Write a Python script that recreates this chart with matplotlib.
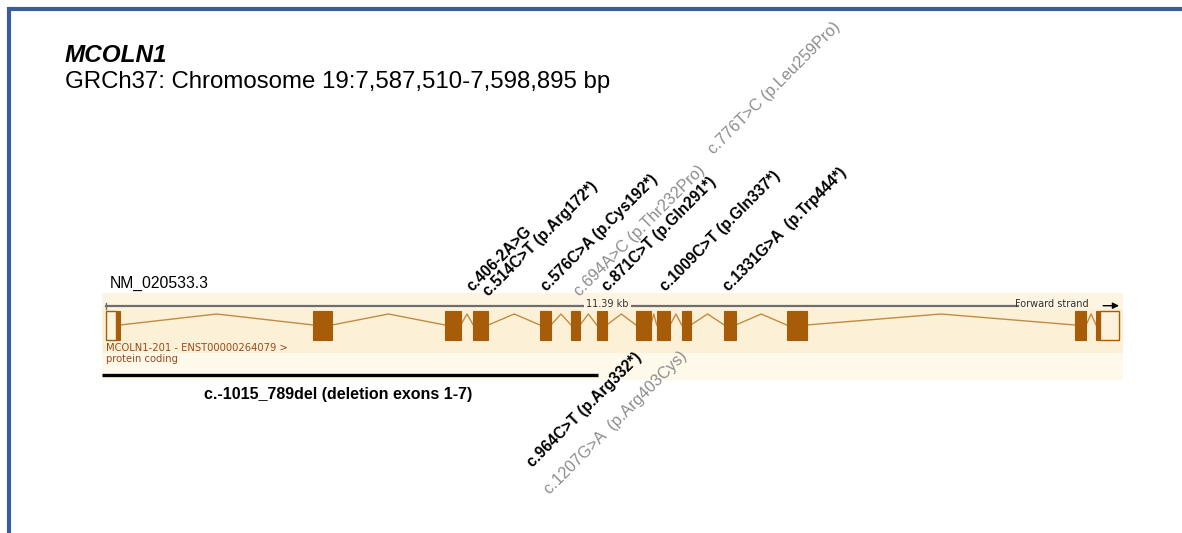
import matplotlib.pyplot as plt
from matplotlib.patches import Rectangle

# exon coordinates, bp from transcript start (gene span 11.39 kb)
exon_start = [0, 2333, 3812, 4130, 4880, 5228, 5517, 5958, 6191, 6472, 6951, 7652, 10891, 11127]
exon_end = [161, 2543, 3989, 4299, 5003, 5329, 5629, 6124, 6341, 6573, 7079, 7876, 11015, 11385]
cds_start = 116      # first exon coding part begins here
cds_end = 11172      # last exon coding part ends here
gene_len = 11385

# variants above the track
top_labels = ["c.406-2A>G", "c.514C>T (p.Arg172*)", "c.576C>A (p.Cys192*)",
              "c.694A>C (p.Thr232Pro)", "c.871C>T (p.Gln291*)", "c.776T>C (p.Leu259Pro)",
              "c.1009C>T (p.Gln337*)", "c.1331G>A  (p.Trp444*)"]
top_pos = [4120, 4310, 4960, 5330, 5640, 6830, 6290, 7000]
top_base = [292, 297, 292, 297, 292, 155, 292, 292]
top_known = [True, True, True, False, True, False, True, True]

# variants below the track
bot_labels = ["c.964C>T (p.Arg332*)", "c.1207G>A  (p.Arg403Cys)"]
bot_pos = [4800, 4990]
bot_base = [468, 495]
bot_known = [True, False]

deletion_span = [-45, 5530]
deletion_label = "c.-1015_789del (deletion exons 1-7)"

plt.rcParams['font.family'] = ['Liberation Sans', 'DejaVu Sans']

fig = plt.figure(figsize=(11.82, 5.33), dpi=100)

# page layer in pixels
page = fig.add_axes([0, 0, 1, 1])
page.set_xlim(0, 1182)
page.set_ylim(533, 0)
page.axis('off')
page.plot([9, 9], [7, 533], color='#3B5C9C', lw=3, solid_capstyle='butt')
page.plot([7.5, 1182], [8.5, 8.5], color='#3B5C9C', lw=3, solid_capstyle='butt')
page.text(65, 62, "MCOLN1", fontsize=17.5, fontweight='bold', fontstyle='italic')
page.text(65, 88, "GRCh37: Chromosome 19:7,587,510-7,598,895 bp", fontsize=17.3)
page.text(110, 288, "NM_020533.3", fontsize=11.3)

# track layer: x in bp, y in pixels
px_per_bp = (1119 - 105.7) / gene_len
ax = fig.add_axes([0, 0, 1, 1])
ax.set_xlim(-105.7 / px_per_bp, (1182 - 105.7) / px_per_bp)
ax.set_ylim(533, 0)
ax.axis('off')
ax.patch.set_alpha(0)

band_x0, band_x1 = -45, 11430
ax.add_patch(Rectangle((band_x0, 293), band_x1 - band_x0, 87, color='#FEF9EB', lw=0, zorder=0))
ax.add_patch(Rectangle((band_x0, 293), band_x1 - band_x0, 16, color='#FDF5E1', lw=0, zorder=0))
ax.add_patch(Rectangle((band_x0, 309), band_x1 - band_x0, 44, color='#FCF1D6', lw=0, zorder=0))

exon_col = '#A65C08'
intron_col = '#C28B45'
top, h = 310.7, 29.3
mid, peak = 325, 314

# introns
for i in range(len(exon_start) - 1):
    a, b = exon_end[i], exon_start[i + 1]
    ax.plot([a, (a + b) / 2, b], [mid, peak, mid], color=intron_col, lw=1, zorder=2)

# coding parts
cs = [max(s, cds_start) for s in exon_start]
ce = [min(e, cds_end) for e in exon_end]
ax.bar(cs, h, width=[e - s for s, e in zip(cs, ce)], bottom=top, align='edge',
       color=exon_col, edgecolor=exon_col, lw=0.8, zorder=3)
# UTR boxes
ax.bar([exon_start[0], cds_end], h, width=[cds_start - exon_start[0], exon_end[-1] - cds_end],
       bottom=top, align='edge', facecolor='#FDF3DC', edgecolor=exon_col,
       lw=1, zorder=3)

# scale bar
ax.plot([0, 10250], [305.5, 305.5], color='#6E6E6E', lw=1.6, zorder=2)
ax.plot([0, 0], [302.5, 308.5], color='#6E6E6E', lw=1, zorder=2)
ax.text(gene_len * 0.495, 304, "11.39 kb", fontsize=7, family='DejaVu Sans', color='#333333',
        ha='center', va='center', zorder=4,
        bbox=dict(facecolor='#FDF5E1', edgecolor='none', pad=1.5))
ax.text(11042, 304, "Forward strand", fontsize=7, family='DejaVu Sans', color='#333333',
        ha='right', va='center', zorder=4)
ax.annotate('', xy=(gene_len, 305.7), xytext=(11207, 305.7),
            arrowprops=dict(arrowstyle='-|>', color='black', lw=1, mutation_scale=9,
                            shrinkA=0, shrinkB=0), zorder=4)

ax.text(0, 348, "MCOLN1-201 - ENST00000264079 >", fontsize=7.2, family='DejaVu Sans',
        color='#9A4A1E', va='center')
ax.text(0, 359, "protein coding", fontsize=7.2, family='DejaVu Sans',
        color='#9A4A1E', va='center')

# deletion
ax.plot(deletion_span, [375, 375], color='black', lw=2.4, solid_capstyle='butt', zorder=3)
ax.text(2610, 394, deletion_label, fontsize=11.5, fontweight='bold',
        ha='center', va='center')

for lab, x, y, known in list(zip(top_labels, top_pos, top_base, top_known)) + \
        list(zip(bot_labels, bot_pos, bot_base, bot_known)):
    ax.text(x, y, lab, rotation=45, rotation_mode='anchor', ha='left', va='baseline',
            fontsize=11.2 if known else 11.7,
            fontweight='bold' if known else 'normal',
            color='black' if known else '#8C8C8C', zorder=5)

fig.savefig('out.png', dpi=100)
